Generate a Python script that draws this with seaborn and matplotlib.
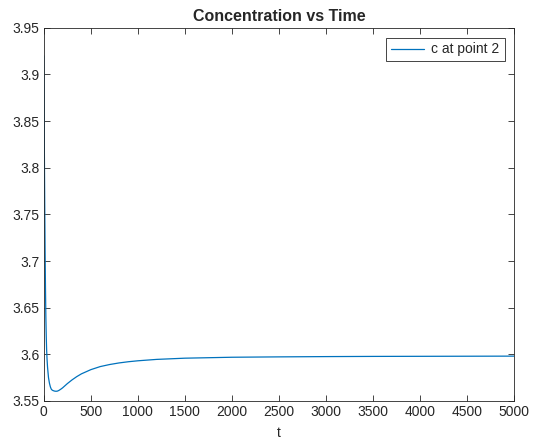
import pandas as pd
import matplotlib.pyplot as plt
import seaborn as sns

sns.set_style("ticks")
plt.rcParams['font.family'] = ['Liberation Sans', 'DejaVu Sans']

# values
t = [0, 3, 6, 10, 14, 18, 22, 26, 30, 35, 40, 50, 60, 70, 80, 90, 100, 115, 130,
     145, 160, 180, 200, 250, 300, 350, 400, 500, 600, 700, 800, 900, 1000,
     1200, 1500, 2000, 2500, 3000, 3500, 4000, 4500, 5000]
c = [3.920, 3.880, 3.820, 3.760, 3.710, 3.670, 3.640, 3.620, 3.605, 3.594, 3.586,
     3.575, 3.569, 3.565, 3.5625, 3.5615, 3.561, 3.5605, 3.5603, 3.5605, 3.5612,
     3.5625, 3.564, 3.5685, 3.5725, 3.576, 3.579, 3.5835, 3.5868, 3.589, 3.5907,
     3.592, 3.593, 3.5945, 3.5958, 3.5968, 3.5972, 3.5975, 3.5977, 3.5978,
     3.5979, 3.598]

df = pd.DataFrame({"t": t, "c": c})

fig = plt.figure(figsize=(5.34, 4.42), dpi=100)
ax = fig.add_axes([0.082, 0.093, 0.881, 0.844])

sns.lineplot(data=df, x="t", y="c", ax=ax, color="#0072BD", linewidth=0.9,
             label="c at point 2")

ax.set_xlim(0, 5000)
ax.set_ylim(3.55, 3.95)
ax.set_xticks(range(0, 5001, 500))
ax.set_yticks([3.55, 3.6, 3.65, 3.7, 3.75, 3.8, 3.85, 3.9, 3.95])
ax.set_yticklabels(["3.55", "3.6", "3.65", "3.7", "3.75", "3.8", "3.85", "3.9", "3.95"])
ax.tick_params(direction="in", top=True, right=True, labelsize=10,
               colors="#262626", length=4, width=0.6, pad=3)
for s in ax.spines.values():
    s.set_linewidth(0.6)
    s.set_color("#262626")

ax.set_xlabel("t", fontsize=10, color="#262626", labelpad=5)
ax.set_ylabel("")
ax.set_title("Concentration vs Time", fontsize=11.5, fontweight="bold", pad=5)

leg = ax.legend(loc="upper right", fontsize=10, fancybox=False, framealpha=1,
                edgecolor="#262626", handlelength=2.4, handletextpad=0.5,
                borderaxespad=0.7, borderpad=0.35)
leg.get_frame().set_linewidth(0.6)

fig.savefig("out.png", dpi=100)
